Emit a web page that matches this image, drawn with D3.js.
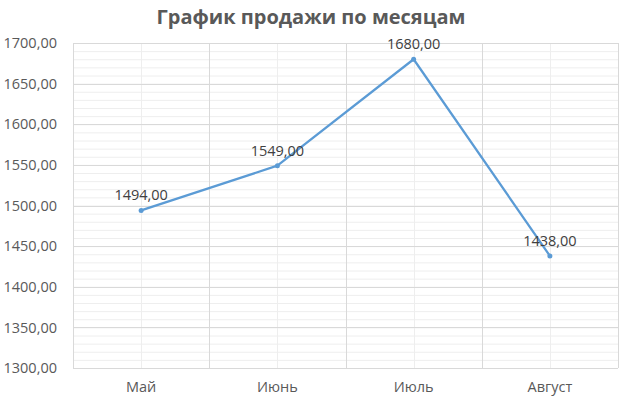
<!DOCTYPE html>
<html><head><meta charset="utf-8">
<script src="https://cdn.jsdelivr.net/npm/d3@7"></script>
<style>body{margin:0;background:#fff}</style>
</head><body><svg id="c" width="623" height="403"></svg>
<script>
const title = "График продажи по месяцам";
const categories = ["Май", "Июнь", "Июль", "Август"];
const values = [1494, 1549, 1680, 1438];
const yTicks = [1300, 1350, 1400, 1450, 1500, 1550, 1600, 1650, 1700];

const W = 623, H = 403;
const m = {l: 73, r: 5, t: 43, b: 35};
const svg = d3.select("#c");
const font = "'Open Sans', 'Noto Sans', sans-serif";
svg.append("rect").attr("width", W).attr("height", H).attr("fill", "#fff");

const x = d3.scaleBand().domain(categories).range([m.l, W - m.r]);
const y = d3.scaleLinear().domain([1300, 1700]).range([H - m.b, m.t]);

const g = svg.append("g");
g.selectAll(".hmin").data(d3.range(1300, 1701, 10)).enter().append("line")
  .attr("x1", m.l).attr("x2", W - m.r).attr("y1", d => y(d) + 0.5).attr("y2", d => y(d) + 0.5)
  .attr("stroke", "#eeeeee").attr("stroke-width", 1);
g.selectAll(".vmin").data(categories).enter().append("line")
  .attr("x1", d => Math.round(x(d) + x.bandwidth() / 2) + 0.5).attr("x2", d => Math.round(x(d) + x.bandwidth() / 2) + 0.5)
  .attr("y1", m.t).attr("y2", H - m.b).attr("stroke", "#eeeeee");
g.selectAll(".hmaj").data(yTicks).enter().append("line")
  .attr("x1", m.l).attr("x2", W - m.r).attr("y1", d => Math.round(y(d)) + 0.5).attr("y2", d => Math.round(y(d)) + 0.5)
  .attr("stroke", "#d9d9d9");
g.selectAll(".vmaj").data(categories.concat(["_end"])).enter().append("line")
  .attr("x1", (d, i) => Math.round(i < categories.length ? x(d) : W - m.r) + 0.5)
  .attr("x2", (d, i) => Math.round(i < categories.length ? x(d) : W - m.r) + 0.5)
  .attr("y1", m.t).attr("y2", H - m.b).attr("stroke", "#d9d9d9");

const yAxis = d3.axisLeft(y).tickValues(yTicks).tickSize(0).tickPadding(16)
  .tickFormat(d => d3.format(".2f")(d).replace(".", ","));
const ya = svg.append("g").attr("transform", `translate(${m.l},0)`).call(yAxis);
ya.select(".domain").remove();
ya.selectAll("text").attr("font-family", font).attr("font-size", 14.5).attr("fill", "#595959");

const xAxis = d3.axisBottom(x).tickSize(0).tickPadding(14);
const xa = svg.append("g").attr("transform", `translate(0,${H - m.b})`).call(xAxis);
xa.select(".domain").remove();
xa.selectAll("text").attr("font-family", font).attr("font-size", 14.5).attr("fill", "#595959");

const cx = d => x(d) + x.bandwidth() / 2;
const data = categories.map((c, i) => ({c, v: values[i]}));
svg.append("path").datum(data)
  .attr("d", d3.line().x(d => cx(d.c)).y(d => y(d.v)))
  .attr("fill", "none").attr("stroke", "#5B9BD5").attr("stroke-width", 2.25).attr("stroke-linejoin", "round");
svg.selectAll(".pt").data(data).enter().append("circle")
  .attr("cx", d => cx(d.c)).attr("cy", d => y(d.v)).attr("r", 2.5).attr("fill", "#5B9BD5");
svg.selectAll(".lbl").data(data).enter().append("text")
  .attr("x", d => cx(d.c)).attr("y", d => y(d.v) - 10)
  .attr("text-anchor", "middle").attr("font-family", font).attr("font-size", 14.5).attr("fill", "#404040")
  .text(d => d3.format(".2f")(d.v).replace(".", ","));

svg.append("text").attr("x", 311).attr("y", 24).attr("text-anchor", "middle")
  .attr("font-family", font).attr("font-size", 20).attr("font-weight", "bold").attr("fill", "#595959")
  .text(title);
</script></body></html>
